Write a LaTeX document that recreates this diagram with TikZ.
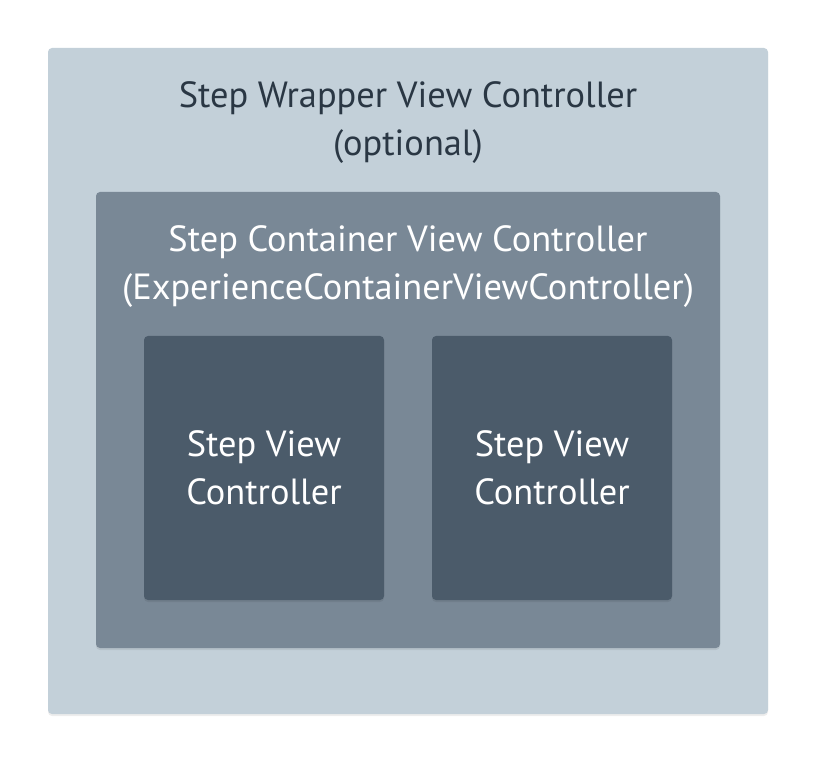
\documentclass[tikz,border=0pt]{standalone}
\usepackage{fontspec}
\setmainfont{PT Sans}
\usepackage{tikz}
\usetikzlibrary{shadows}

\definecolor{wrapperfill}{HTML}{C3D0D9}
\definecolor{containerfill}{HTML}{798896}
\definecolor{stepfill}{HTML}{4B5B6A}
\definecolor{darktext}{HTML}{2A3744}

\tikzset{
	box/.style={rounded corners=3pt, inner sep=0pt, draw=none},
	label/.style={align=center, font=\fontsize{27.3}{36}\selectfont, inner sep=0pt},
	softshadow/.style={drop shadow={shadow xshift=0pt, shadow yshift=-1.5pt, opacity=0.07, fill=black}}
}

\begin{document}
\begin{tikzpicture}[x=0.75pt, y=-0.75pt]
			\useasboundingbox[fill=white] (0,0) rectangle (816,762);
			% Boxes
			\node[box, fill=wrapperfill, softshadow, minimum width=540pt, minimum height=499.5pt] (wrapper) at (408,381) {};
			\node[box, fill=containerfill, softshadow, minimum width=468pt, minimum height=342pt] (container) at (408,420) {};
			\foreach \i/\x in {1/264,2/552} {
				\node[box, fill=stepfill, softshadow, minimum width=180pt, minimum height=198pt] (step\i) at (\x,468) {};
				\node[label, text=white] (steplabel\i) at (step\i) {Step View\\Controller};
			}
			% Labels
			\node[label, text=darktext] (wrapperlabel) at (408,123) {Step Wrapper View Controller\\(optional)};
			\node[label, text=white] (containerlabel) at (408,267) {Step Container View Controller\\(ExperienceContainerViewController)};
		\end{tikzpicture}
\end{document}
